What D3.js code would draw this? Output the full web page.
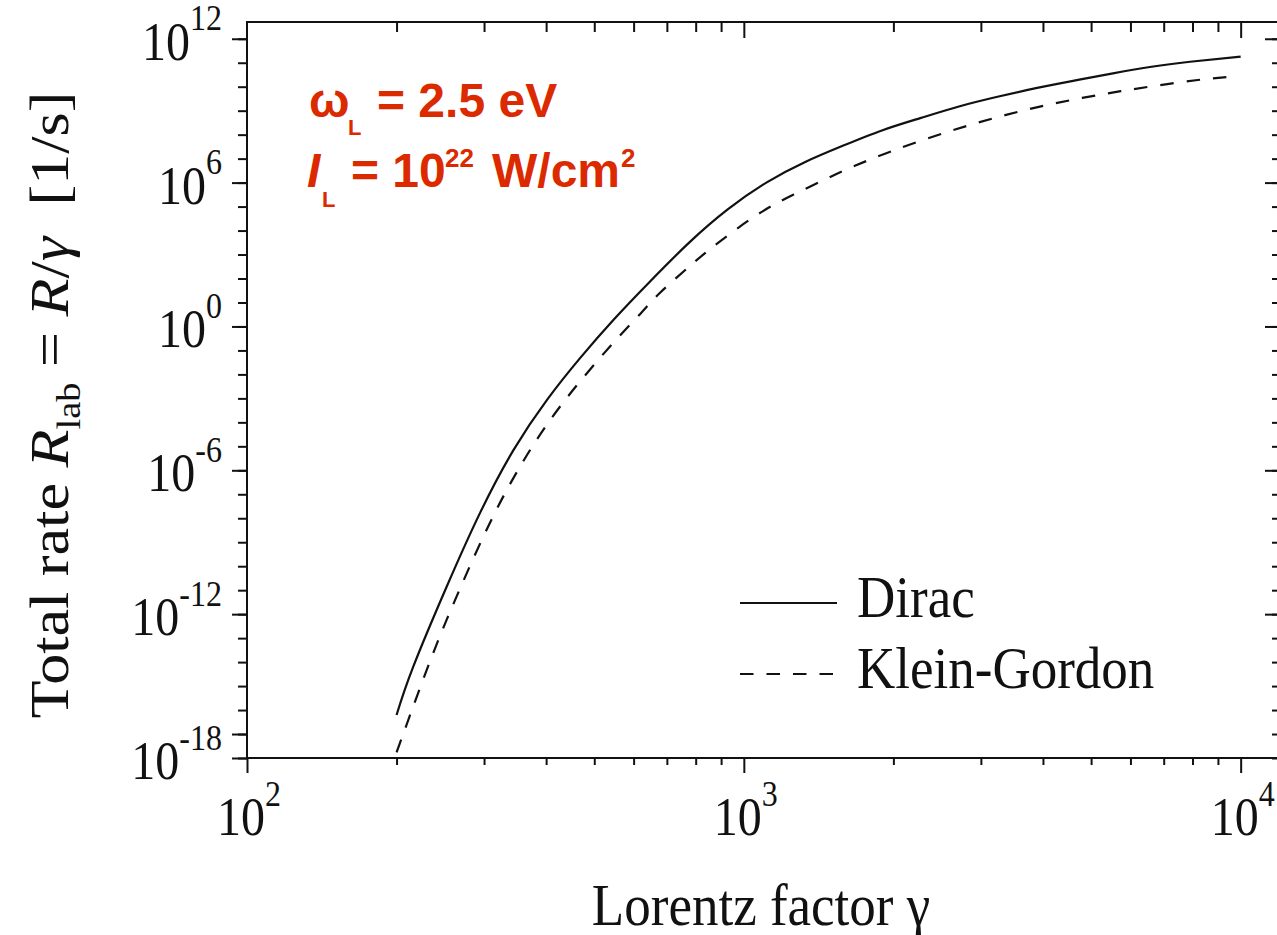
<!DOCTYPE html>
<html>
<head>
<meta charset="utf-8">
<script src="https://cdn.jsdelivr.net/npm/d3@7"></script>
<style>
  body { margin: 0; background: #fff; }
  svg { display: block; }
</style>
</head>
<body>
<svg id="chart" width="1277" height="935"></svg>
<script>
// Lorentz factor samples and total rates (1/s) for the Dirac calculation
const gammaDirac = [200, 216, 253, 295, 344, 402, 469, 548, 649, 777, 928, 1110, 1326, 1586,
                    1896, 2265, 2710, 3240, 3872, 4627, 5533, 6616, 7910, 10000];
const rateDirac  = [6.2e-17, 6.3e-15, 1.6e-11, 1.8e-8, 7.1e-6, 8.9e-4, 5.0e-2, 2.0, 79, 3.2e3,
                    7.6e4, 1.0e6, 7.1e6, 3.5e7, 1.5e8, 4.9e8, 1.5e9, 3.8e9, 8.7e9, 1.8e10,
                    3.6e10, 6.8e10, 1.1e11, 1.8e11];

// Lorentz factor samples and total rates (1/s) for the Klein-Gordon calculation
const gammaKG = [200, 234, 267, 314, 372, 441, 540, 620, 679, 777, 864, 979, 1110, 1257, 1450,
                 1673, 1965, 2349, 2808, 3356, 4013, 4798, 5734, 6855, 8198, 9550];
const rateKG  = [1.7e-18, 1.2e-14, 9.1e-12, 1.4e-8, 7.4e-6, 1.1e-3, 0.16, 3.5, 26, 3.2e2, 2.0e3,
                 1.4e4, 7.9e4, 3.1e5, 1.3e6, 5.0e6, 1.9e7, 7.1e7, 2.3e8, 6.5e8, 1.6e9, 3.4e9,
                 6.5e9, 1.15e10, 1.9e10, 2.6e10];

const seriesNames = ["Dirac", "Klein-Gordon"];

// Axis ticks
const xMajorTicks = [1e2, 1e3, 1e4];
const xMajorExponents = ["2", "3", "4"];
const xMinorTicks = [200, 300, 400, 500, 600, 700, 800, 900,
                     2000, 3000, 4000, 5000, 6000, 7000, 8000, 9000];
const yLabelTicks = [1e12, 1e6, 1, 1e-6, 1e-12, 1e-18];
const yLabelExponents = ["12", "6", "0", "-6", "-12", "-18"];
const yLongLeftTicks = [1e12, 1e6, 1, 1e-6, 1e-12, 1e-17, 1e-18];
const yDecadeTicks = d3.range(-18, 13).map(e => Math.pow(10, e));

const svg = d3.select("#chart");
const SERIF = "'Liberation Serif', 'Times New Roman', Times, serif";
const SANS = "'Liberation Sans', Arial, Helvetica, sans-serif";
const INK = "#111";
const RED = "#dc2a00";
const SY = 1.13;   // vertical stretch of the serif lettering

const plot = { left: 247, right: 1280, top: 22, bottom: 758 };

const x = d3.scaleLog().domain([1e2, 1.2e4]).range([plot.left, plot.right]);
const y = d3.scaleLog().domain([1e-18, 5e12]).range([plot.bottom, plot.top]);

// ---- ticks ---------------------------------------------------------------
function styleAxis(g) {
  g.select(".domain").remove();
  g.selectAll(".tick line").attr("stroke", INK).attr("stroke-width", 2);
  g.selectAll(".tick text").remove();
}

function ticks(axisFn, scale, values, size, tx, ty) {
  svg.append("g").attr("transform", `translate(${tx},${ty})`)
    .call(axisFn(scale).tickValues(values).tickSize(size).tickFormat(""))
    .call(styleAxis);
}

// bottom: outward
ticks(d3.axisBottom, x, xMinorTicks, 7, 0, plot.bottom);
ticks(d3.axisBottom, x, xMajorTicks, 15, 0, plot.bottom);
// top: inward
ticks(d3.axisBottom, x, xMinorTicks, 10, 0, plot.top);
ticks(d3.axisBottom, x, xMajorTicks.slice(1), 16, 0, plot.top);
// left: outward
ticks(d3.axisLeft, y, yDecadeTicks, 9, plot.left, 0);
ticks(d3.axisLeft, y, yLongLeftTicks, 15, plot.left, 0);
// right: inward
ticks(d3.axisLeft, y, yDecadeTicks, 8, plot.right, 0);
ticks(d3.axisLeft, y, yLabelTicks.slice(0, 5), 15, plot.right, 0);

// frame
svg.append("path")
  .attr("d", `M${plot.left},${plot.top}H${plot.right}V${plot.bottom}H${plot.left}Z`)
  .attr("fill", "none").attr("stroke", INK).attr("stroke-width", 2);

// ---- tick labels: powers of ten -----------------------------------------
function powerLabel(px, py, exp, anchor) {
  const t = svg.append("text")
    .attr("transform", `translate(${px},${py}) scale(1,${SY})`)
    .attr("text-anchor", anchor)
    .attr("fill", INK)
    .style("font-family", SERIF)
    .style("font-size", "48px");
  t.append("tspan").text("10");
  t.append("tspan").attr("dy", -26).style("font-size", "32px").text(exp);
}

yLabelTicks.forEach((v, i) => powerLabel(222, y(v) + 21, yLabelExponents[i], "end"));
xMajorTicks.forEach((v, i) => powerLabel(x(v) + 2, 835, xMajorExponents[i], "middle"));

// ---- axis titles ---------------------------------------------------------
svg.append("text")
  .attr("transform", `translate(761,925) scale(1,${SY})`)
  .attr("text-anchor", "middle").attr("fill", INK)
  .style("font-family", SERIF).style("font-size", "53px")
  .text("Lorentz factor γ");

const yt = svg.append("text")
  .attr("transform", `translate(68,405) scale(1,${SY}) rotate(-90)`)
  .attr("text-anchor", "middle").attr("fill", INK)
  .style("font-family", SERIF).style("font-size", "55px");
yt.append("tspan").text("Total rate ");
yt.append("tspan").style("font-style", "italic").text("R");
yt.append("tspan").attr("dy", 12).style("font-size", "34px").text("lab");
yt.append("tspan").attr("dy", -12).text(" = ");
yt.append("tspan").style("font-style", "italic").text("R");
yt.append("tspan").text("/");
yt.append("tspan").style("font-style", "italic").text("γ");
yt.append("tspan").attr("dx", 14).text(" [1/s]");

// ---- curves --------------------------------------------------------------
const line = d3.line()
  .x(d => x(d[0]))
  .y(d => y(d[1]))
  .curve(d3.curveNatural);

svg.append("path").datum(d3.zip(gammaDirac, rateDirac))
  .attr("d", line).attr("fill", "none")
  .attr("stroke", INK).attr("stroke-width", 2.2);

svg.append("path").datum(d3.zip(gammaKG, rateKG))
  .attr("d", line).attr("fill", "none")
  .attr("stroke", INK).attr("stroke-width", 2.2)
  .attr("stroke-dasharray", "13.5,13");

// ---- legend --------------------------------------------------------------
const legendRows = [
  { name: seriesNames[0], dash: null, base: 617 },
  { name: seriesNames[1], dash: "13.5,13", base: 688 }
];
const legend = svg.append("g");
legendRows.forEach(r => {
  legend.append("line")
    .attr("x1", 740).attr("x2", 837)
    .attr("y1", r.base - 14).attr("y2", r.base - 14)
    .attr("stroke", INK).attr("stroke-width", 2.2)
    .attr("stroke-dasharray", r.dash);
  legend.append("text")
    .attr("transform", `translate(857,${r.base}) scale(1,${SY})`)
    .attr("fill", INK)
    .style("font-family", SERIF).style("font-size", "53px")
    .text(r.name);
});

// ---- laser parameters ----------------------------------------------------
const ann = svg.append("g")
  .attr("fill", RED)
  .style("font-family", SANS)
  .style("font-weight", "bold");

const l1 = ann.append("text").attr("y", 117).style("font-size", "48px");
l1.append("tspan").attr("x", 309).text("ω");
l1.append("tspan").attr("x", 348).attr("dy", 18).style("font-size", "22px").text("L");
l1.append("tspan").attr("x", 377).attr("dy", -18).text("= 2.5 eV");

const l2 = ann.append("text").attr("y", 187).style("font-size", "48px");
l2.append("tspan").attr("x", 307).style("font-style", "italic").text("I");
l2.append("tspan").attr("x", 322).attr("dy", 20).style("font-size", "22px").text("L");
l2.append("tspan").attr("x", 351).attr("dy", -20).text("= 10");
l2.append("tspan").attr("x", 445).attr("dy", -20).style("font-size", "26px").text("22");
l2.append("tspan").attr("x", 492).attr("dy", 20).text("W/cm");
l2.append("tspan").attr("x", 621).attr("dy", -20).style("font-size", "26px").text("2");
</script>
</body>
</html>
